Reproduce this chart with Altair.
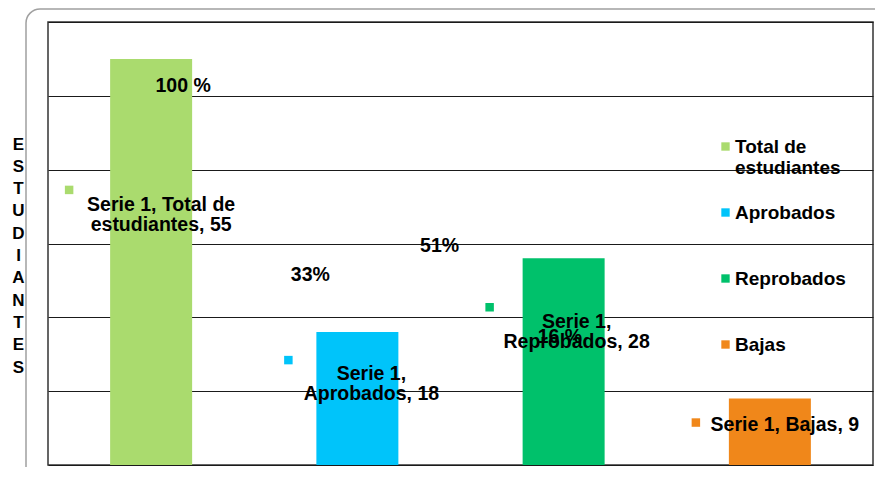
import altair as alt
import pandas as pd

# ---- data ----
categories = ["Total de estudiantes", "Aprobados", "Reprobados", "Bajas"]
values = [55, 18, 28, 9]
percent_labels = ["100 %", "33%", "51%", "16 %"]
series_labels = ["Serie 1, Total de\nestudiantes, 55", "Serie 1,\nAprobados, 18",
                 "Serie 1,\nReprobados, 28", "Serie 1, Bajas, 9"]
y_ticks = [0, 10, 20, 30, 40, 50, 60]
axis_title = list("ESTUDIANTES")

# ---- styling / layout (kept apart from the data) ----
colors = ["#AADB6E", "#00C4FA", "#00C16B", "#F0871A"]
pct_offsets = [(32, 27), (-47, -57), (-124, -12), (-210, -62)]
lbl_offsets = [(10, 146), (14, 42), (13, 64), (15, 26)]
sq_offsets = [(-82, 131), (-69, 28), (-74, 49), (-74, 24)]
FONT = "Liberation Sans"

df = pd.DataFrame({"cat": categories, "val": values,
                   "pct": percent_labels, "lbl": series_labels})

x_enc = alt.X("cat:N", sort=categories,
              scale=alt.Scale(paddingInner=0, paddingOuter=0), axis=None)
y_enc = alt.Y("val:Q", scale=alt.Scale(domain=[0, 60], nice=False),
              axis=alt.Axis(values=y_ticks, grid=True, gridColor="#1a1a1a", gridWidth=1.2,
                            labels=False, ticks=False, domain=False,
                            title=axis_title, titleAngle=0, titleAlign="center",
                            titleBaseline="top", titleX=-30, titleY=114,
                            titleFont=FONT, titleFontSize=17, titleFontWeight="bold",
                            titleLineHeight=22.3, titleColor="black"))
color_enc = alt.Color("cat:N", scale=alt.Scale(domain=categories, range=colors),
                      legend=alt.Legend(orient="none", legendX=668, legendY=115,
                                        title=None, symbolType="square", symbolSize=70,
                                        symbolStrokeWidth=0, labelFont=FONT,
                                        labelFontSize=19, labelFontWeight="bold",
                                        labelColor="black", labelLimit=300,
                                        labelOffset=0, rowPadding=25, gridAlign="all",
                                        labelExpr="datum.label == 'Total de estudiantes' ? ['Total de', 'estudiantes'] : datum.label"))

base = alt.Chart(df)

bars = base.mark_bar(size=82).encode(x=x_enc, y=y_enc, color=color_enc)

layers = [bars]
for i, c in enumerate(categories):
    sub = base.transform_filter(alt.datum.cat == c)
    layers.append(sub.mark_text(font=FONT, fontSize=19.5, fontWeight="bold", color="black",
                                align="center", baseline="middle",
                                dx=pct_offsets[i][0], dy=pct_offsets[i][1])
                  .encode(x=x_enc, y=y_enc, text="pct:N"))
    layers.append(sub.mark_square(size=72, opacity=1,
                                  xOffset=sq_offsets[i][0], yOffset=sq_offsets[i][1])
                  .encode(x=x_enc, y=y_enc, color=color_enc))
    layers.append(sub.mark_text(font=FONT, fontSize=19.5, fontWeight="bold", color="black",
                                align="center", baseline="middle", lineBreak="\n",
                                lineHeight=20,
                                dx=lbl_offsets[i][0], dy=lbl_offsets[i][1])
                  .encode(x=x_enc, y=y_enc, text="lbl:N"))

frame = alt.Chart(pd.DataFrame({"a": [0]})).mark_rect(
    fill="transparent", stroke="#a0a0a0", strokeWidth=1.5, cornerRadius=14
).encode(x=alt.value(-22), x2=alt.value(850), y=alt.value(-13), y2=alt.value(470))

chart = alt.layer(frame, *layers).properties(
    width=825, height=443,
    padding={"left": 40, "top": 14, "right": 2, "bottom": 2},
    autosize=alt.AutoSizeParams(type="none"),
).configure_view(stroke="#333333", strokeWidth=1.5)

chart.save("out.html", embed_options={"renderer": "svg", "actions": False})
